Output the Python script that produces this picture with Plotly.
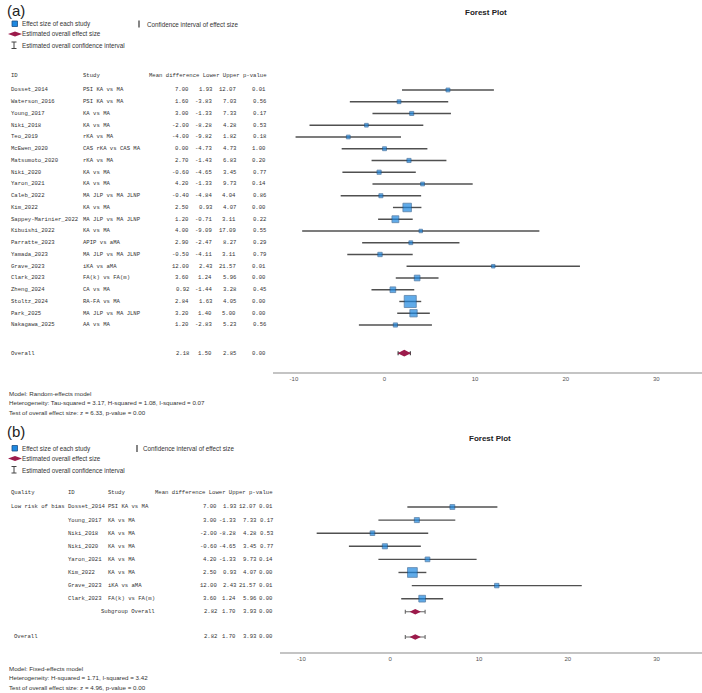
import plotly.graph_objects as go

W, H = 702, 693

# ---------------- Panel (a) data ----------------
ids_a = ["Dosset_2014", "Waterson_2016", "Young_2017", "Niki_2018", "Teo_2019",
         "McEwen_2020", "Matsumoto_2020", "Niki_2020", "Yaron_2021", "Caleb_2022",
         "Kim_2022", "Sappey-Marinier_2022", "Kibuishi_2022", "Parratte_2023",
         "Yamada_2023", "Grave_2023", "Clark_2023", "Zheng_2024", "Stoltz_2024",
         "Park_2025", "Nakagawa_2025"]
studies_a = ["PSI KA vs MA", "PSI KA vs MA", "KA vs MA", "KA vs MA", "rKA vs MA",
             "CAS rKA vs CAS MA", "rKA vs MA", "KA vs MA", "KA vs MA", "MA JLP vs MA JLNP",
             "KA vs MA", "MA JLP vs MA JLNP", "KA vs MA", "APIP vs aMA",
             "MA JLP vs MA JLNP", "iKA vs aMA", "FA(k) vs FA(m)", "CA vs MA", "RA-FA vs MA",
             "MA JLP vs MA JLNP", "AA vs MA"]
mean_a = [7.00, 1.60, 3.00, -2.00, -4.00, 0.00, 2.70, -0.60, 4.20, -0.40, 2.50,
          1.20, 4.00, 2.90, -0.50, 12.00, 3.60, 0.92, 2.84, 3.20, 1.20]
lower_a = [1.93, -3.83, -1.33, -8.28, -9.82, -4.73, -1.43, -4.65, -1.33, -4.84, 0.93,
           -0.71, -9.09, -2.47, -4.11, 2.43, 1.24, -1.44, 1.63, 1.40, -2.83]
upper_a = [12.07, 7.03, 7.33, 4.28, 1.82, 4.73, 6.83, 3.45, 9.73, 4.04, 4.07,
           3.11, 17.09, 8.27, 3.11, 21.57, 5.96, 3.28, 4.05, 5.00, 5.23]
pval_a = [0.01, 0.56, 0.17, 0.53, 0.18, 1.00, 0.20, 0.77, 0.14, 0.86, 0.00,
          0.22, 0.55, 0.29, 0.79, 0.01, 0.00, 0.45, 0.00, 0.00, 0.56]
overall_a = [2.18, 1.50, 2.85, 0.00]
notes_a = ["Model: Random-effects model",
           "Heterogeneity: Tau-squared = 3.17, H-squared = 1.08, I-squared = 0.07",
           "Test of overall effect size: z = 6.33, p-value = 0.00"]

# ---------------- Panel (b) data ----------------
quality_b = "Low risk of bias"
ids_b = ["Dosset_2014", "Young_2017", "Niki_2018", "Niki_2020", "Yaron_2021",
         "Kim_2022", "Grave_2023", "Clark_2023"]
studies_b = ["PSI KA vs MA", "KA vs MA", "KA vs MA", "KA vs MA", "KA vs MA",
             "KA vs MA", "iKA vs aMA", "FA(k) vs FA(m)"]
mean_b = [7.00, 3.00, -2.00, -0.60, 4.20, 2.50, 12.00, 3.60]
lower_b = [1.93, -1.33, -8.28, -4.65, -1.33, 0.93, 2.43, 1.24]
upper_b = [12.07, 7.33, 4.28, 3.45, 9.73, 4.07, 21.57, 5.96]
pval_b = [0.01, 0.17, 0.53, 0.77, 0.14, 0.00, 0.01, 0.00]
subgroup_b = [2.82, 1.70, 3.93, 0.00]
overall_b = [2.82, 1.70, 3.93, 0.00]
notes_b = ["Model: Fixed-effects model",
           "Heterogeneity: H-squared = 1.71, I-squared = 3.42",
           "Test of overall effect size: z = 4.96, p-value = 0.00"]

tick_vals = [-10, 0, 10, 20, 30]
tick_text = ["-10", "0", "10", "20", "30"]
legend_labels = ["Effect size of each study", "Estimated overall effect size",
                 "Estimated overall confidence interval", "Confidence interval of effect size"]

# ---------------- styles ----------------
BLUE = "#1e88e0"
BLUE_EDGE = "#1a4f85"
MAROON = "#9c1a4b"
CI_COL = "#505050"
MONO = "Liberation Mono, Courier New, monospace"
SANS = "Liberation Sans, Arial, sans-serif"
TXT = "#333333"


def px(x):
    return x / W


def py(y):
    return 1 - y / H


def inv_var(lo, hi):
    return [(3.92 / (u - l)) ** 2 for l, u in zip(lo, hi)]


fig = go.Figure()

# ---- Panel (a) marks ----
rows_a = list(range(len(ids_a)))
ov_row_a = len(ids_a) + 1.4
hdr_row_a = -1.2
ci_x, ci_y = [], []
for r, l, u in zip(rows_a, lower_a, upper_a):
    ci_x += [l, u, None]
    ci_y += [r, r, None]
fig.add_trace(go.Scatter(x=ci_x, y=ci_y, mode="lines", line=dict(color=CI_COL, width=1.4),
                         xaxis="x", yaxis="y", hoverinfo="skip", showlegend=False))
w_a = inv_var(lower_a, upper_a)
fig.add_trace(go.Scatter(x=mean_a, y=rows_a, mode="markers",
                         marker=dict(symbol="square", size=[3.4 + 3.3 * w for w in w_a],
                                     color=BLUE, line=dict(color=BLUE_EDGE, width=0.8)),
                         xaxis="x", yaxis="y", showlegend=False))
fig.add_trace(go.Scatter(x=[overall_a[0]], y=[ov_row_a], mode="markers",
                         error_x=dict(type="data", symmetric=False,
                                      array=[overall_a[2] - overall_a[0]],
                                      arrayminus=[overall_a[0] - overall_a[1]],
                                      color="#444444", thickness=1.2, width=2),
                         marker=dict(symbol="diamond-wide", size=9.5, color=MAROON,
                                     line=dict(width=0)),
                         xaxis="x", yaxis="y", showlegend=False))

# ---- Panel (b) marks ----
rows_b = list(range(len(ids_b)))
sub_row_b = len(ids_b)
ov_row_b = len(ids_b) + 1.92
hdr_row_b = -1.07
ci_x, ci_y = [], []
for r, l, u in zip(rows_b, lower_b, upper_b):
    ci_x += [l, u, None]
    ci_y += [r, r, None]
fig.add_trace(go.Scatter(x=ci_x, y=ci_y, mode="lines", line=dict(color=CI_COL, width=1.4),
                         xaxis="x2", yaxis="y2", hoverinfo="skip", showlegend=False))
w_b = inv_var(lower_b, upper_b)
fig.add_trace(go.Scatter(x=mean_b, y=rows_b, mode="markers",
                         marker=dict(symbol="square", size=[4.3 + 3.5 * w for w in w_b],
                                     color=BLUE, line=dict(color=BLUE_EDGE, width=0.8)),
                         xaxis="x2", yaxis="y2", showlegend=False))
for vals, row in [(subgroup_b, sub_row_b), (overall_b, ov_row_b)]:
    fig.add_trace(go.Scatter(x=[vals[0]], y=[row], mode="markers",
                             error_x=dict(type="data", symmetric=False,
                                          array=[vals[2] - vals[0]],
                                          arrayminus=[vals[0] - vals[1]],
                                          color="#666666", thickness=1.1, width=2),
                             marker=dict(symbol="diamond-wide", size=8, color=MAROON,
                                         line=dict(width=0)),
                             xaxis="x2", yaxis="y2", showlegend=False))

ann = []


def t(x, y, text, yref="paper", anchor="left", size=5.6, family=MONO, color=TXT, bold=False):
    if bold:
        text = "<b>" + text + "</b>"
    ann.append(dict(x=x, y=y, xref="paper", yref=yref, text=text, showarrow=False,
                    xanchor=anchor, yanchor="middle", align=anchor,
                    font=dict(size=size, family=family, color=color), borderpad=0))


def f2(v):
    return f"{v:.2f}"


# ---- Panel (a) table ----
t(px(10), hdr_row_a, "ID", "y")
t(px(82), hdr_row_a, "Study", "y")
t(px(268), hdr_row_a, "Mean difference Lower Upper p-value", "y", "right")
for r in rows_a:
    t(px(10), r, ids_a[r], "y")
    t(px(82), r, studies_a[r], "y")
    t(px(190), r, f2(mean_a[r]), "y", "right")
    t(px(213), r, f2(lower_a[r]), "y", "right")
    t(px(237), r, f2(upper_a[r]), "y", "right")
    t(px(267), r, f2(pval_a[r]), "y", "right")
t(px(10), ov_row_a, "Overall", "y")
for xx, v in zip([190, 213, 237, 267], overall_a):
    t(px(xx), ov_row_a, f2(v), "y", "right")

# ---- Panel (b) table ----
t(px(10), hdr_row_b, "Quality", "y2")
t(px(67), hdr_row_b, "ID", "y2")
t(px(107), hdr_row_b, "Study", "y2")
t(px(274), hdr_row_b, "Mean difference Lower Upper p-value", "y2", "right")
t(px(10), 0, quality_b, "y2")
for r in rows_b:
    t(px(67), r, ids_b[r], "y2")
    t(px(107), r, studies_b[r], "y2")
    t(px(218), r, f2(mean_b[r]), "y2", "right")
    t(px(237), r, f2(lower_b[r]), "y2", "right")
    t(px(257), r, f2(upper_b[r]), "y2", "right")
    t(px(274), r, f2(pval_b[r]), "y2", "right")
t(px(100), sub_row_b, "Subgroup Overall", "y2")
for xx, v in zip([218, 237, 257, 274], subgroup_b):
    t(px(xx), sub_row_b, f2(v), "y2", "right")
t(px(13), ov_row_b, "Overall", "y2")
for xx, v in zip([218, 237, 257, 274], overall_b):
    t(px(xx), ov_row_b, f2(v), "y2", "right")

# ---- panel labels, titles, notes ----
t(px(6), py(10), "(a)", size=15, family=SANS, color="#222")
t(px(6), py(431), "(b)", size=15, family=SANS, color="#222")
t(px(486), py(13), "Forest Plot", anchor="center", size=8, family=SANS, color="#222", bold=True)
t(px(490), py(438), "Forest Plot", anchor="center", size=8, family=SANS, color="#222", bold=True)
for i, s in enumerate(notes_a):
    t(px(8), py(393 + 9.6 * i), s, size=6.2, family=SANS)
for i, s in enumerate(notes_b):
    t(px(8), py(668 + 9.6 * i), s, size=6.2, family=SANS)

# ---- legends (drawn glyphs) ----
shapes = []


def legend(dy, bar_x, bar_tx):
    shapes.append(dict(type="rect", xref="paper", yref="paper",
                       x0=px(12), x1=px(17.5), y0=py(21 + dy), y1=py(26.5 + dy),
                       fillcolor=BLUE, line=dict(color=BLUE_EDGE, width=0.8)))
    cy = 34 + dy
    shapes.append(dict(type="path", xref="paper", yref="paper",
                       path=f"M {px(8)},{py(cy)} L {px(15)},{py(cy-2.6)} L {px(22)},{py(cy)} L {px(15)},{py(cy+2.6)} Z",
                       fillcolor=MAROON, line=dict(width=0)))
    for seg in [(14, 42, 14, 48.5), (11.5, 42, 16.5, 42), (11.5, 48.5, 16.5, 48.5)]:
        shapes.append(dict(type="line", xref="paper", yref="paper",
                           x0=px(seg[0]), y0=py(seg[1] + dy), x1=px(seg[2]), y1=py(seg[3] + dy),
                           line=dict(color="#444", width=1)))
    shapes.append(dict(type="line", xref="paper", yref="paper",
                       x0=px(bar_x), x1=px(bar_x), y0=py(20.5 + dy), y1=py(27.5 + dy),
                       line=dict(color="#444", width=1.3)))
    t(px(21), py(24 + dy), legend_labels[0], size=6.3, family=SANS)
    t(px(21), py(34 + dy), legend_labels[1], size=6.3, family=SANS)
    t(px(21), py(45.5 + dy), legend_labels[2], size=6.3, family=SANS)
    t(px(bar_tx), py(24 + dy), legend_labels[3], size=6.3, family=SANS)


legend(0, 139, 146)
legend(424.5, 137, 142)

axis_common = dict(showline=True, linecolor="#c4c4c4", linewidth=1.5, ticks="",
                   showgrid=False, zeroline=False, tickvals=tick_vals, ticktext=tick_text,
                   tickfont=dict(size=6, family=SANS, color="#555"), fixedrange=True)

fig.update_layout(
    width=W, height=H, margin=dict(l=0, r=0, t=0, b=0),
    paper_bgcolor="white", plot_bgcolor="white", showlegend=False,
    xaxis=dict(domain=[px(273), 1], range=[-12.31, 35.04], anchor="y", **axis_common),
    yaxis=dict(domain=[py(372), py(60)], range=[24.0, -2.55], visible=False),
    xaxis2=dict(domain=[px(280), 1], range=[-12.41, 35.11], anchor="y2", **axis_common),
    yaxis2=dict(domain=[py(652), py(480)], range=[11.07, -2.06], visible=False),
    annotations=ann, shapes=shapes,
)

fig.write_html("out.html")
